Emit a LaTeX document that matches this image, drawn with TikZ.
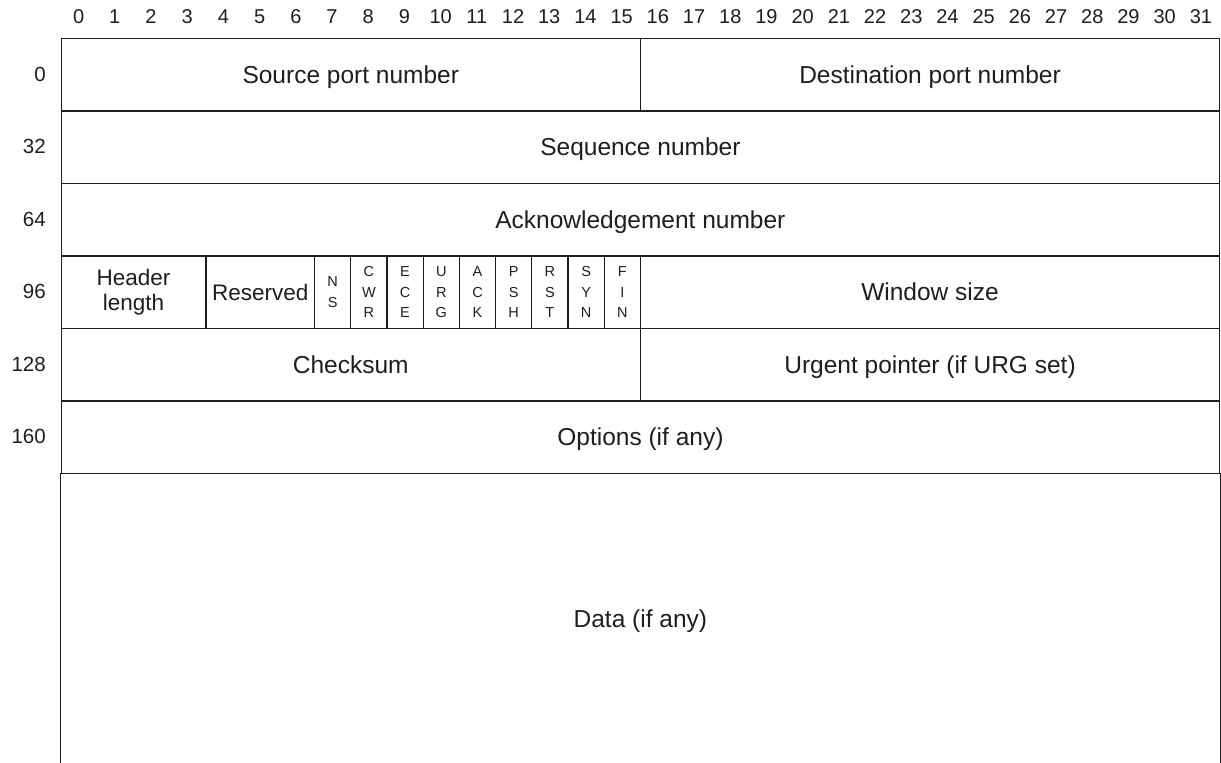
\documentclass[tikz,border=0pt]{standalone}
\usepackage{fontspec}
\setmainfont{Liberation Sans}
\definecolor{ink}{HTML}{1E1E1E}
% width of one bit column and height of one 32-bit row
\def\bw{36.203}
\def\rh{72.5}
\tikzset{
  cell/.style={draw=ink, line width=1.3pt, anchor=north west, inner sep=0pt,
    minimum height=\rh pt, text=ink},
  % one-line fields share a fixed text box so their baselines line up
  field/.style={cell, text height=17.5pt, text depth=0pt,
    font=\fontsize{24.5}{27}\selectfont},
  smallfield/.style={cell, align=center, font=\fontsize{22.5}{25}\selectfont},
  flagbox/.style={cell, align=center, minimum width=\bw pt,
    font=\fontsize{14.5}{20.5}\selectfont},
  bitnum/.style={text=ink, inner sep=0pt, font=\fontsize{20}{24}\selectfont},
  rownum/.style={anchor=east, text=ink, inner sep=0pt, font=\fontsize{20.5}{24}\selectfont},
  side/.style={draw=ink, line width=1.3pt},
}
\begin{document}
\begin{tikzpicture}[x=1pt, y=-1pt]
\useasboundingbox (0,0) rectangle (1221,763);

% bit positions along the top
\foreach \b in {0,...,31}
  \node[bitnum] (bit\b) at ({60.5+(\b+0.5)*\bw}, 17) {\b};

% row offsets on the left
\foreach \o [count=\r from 0] in {0,32,64,96,128,160}
  \node[rownum] (row\o) at (46, {37.7+(\r+0.5)*\rh}) {\o};

% row 0
\node[field, minimum width={16*\bw pt}] (src) at (60.5, 37.7) {Source port number};
\node[field, minimum width={16*\bw pt}] (dst) at ({60.5+16*\bw}, 37.7) {Destination port number};
% row 32
\node[field, minimum width={32*\bw pt}] (seq) at (60.5, 110.2) {Sequence number};
% row 64
\node[field, minimum width={32*\bw pt}] (ack) at (60.5, 182.7) {Acknowledgement number};
% row 96
\node[smallfield, minimum width={4*\bw pt}] (hlen) at (60.5, 255.2) {Header\\length};
\node[smallfield, minimum width={3*\bw pt}] (resv) at ({60.5+4*\bw}, 255.2) {Reserved};
\foreach \t/\n [count=\i from 7] in {N\\S/ns, C\\W\\R/cwr, E\\C\\E/ece, U\\R\\G/urg,
    A\\C\\K/ackf, P\\S\\H/psh, R\\S\\T/rst, S\\Y\\N/syn, F\\I\\N/fin}
  \node[flagbox] (\n) at ({60.5+\i*\bw}, 255.2) {\t};
\node[field, minimum width={16*\bw pt}] (win) at ({60.5+16*\bw}, 255.2) {Window size};
% row 128
\node[field, minimum width={16*\bw pt}] (csum) at (60.5, 327.7) {Checksum};
\node[field, minimum width={16*\bw pt}] (urgp) at ({60.5+16*\bw}, 327.7) {Urgent pointer (if URG set)};
% row 160
\node[field, minimum width={32*\bw pt}] (opts) at (60.5, 400.2) {Options (if any)};
% payload, open at the bottom
\node[field, draw=none, minimum width={32*\bw pt}, minimum height=290.3pt] (data) at (60.5, 472.7) {Data (if any)};
\draw[side] (data.north west) -- (data.south west);
\draw[side] (data.north east) -- (data.south east);
\end{tikzpicture}
\end{document}
